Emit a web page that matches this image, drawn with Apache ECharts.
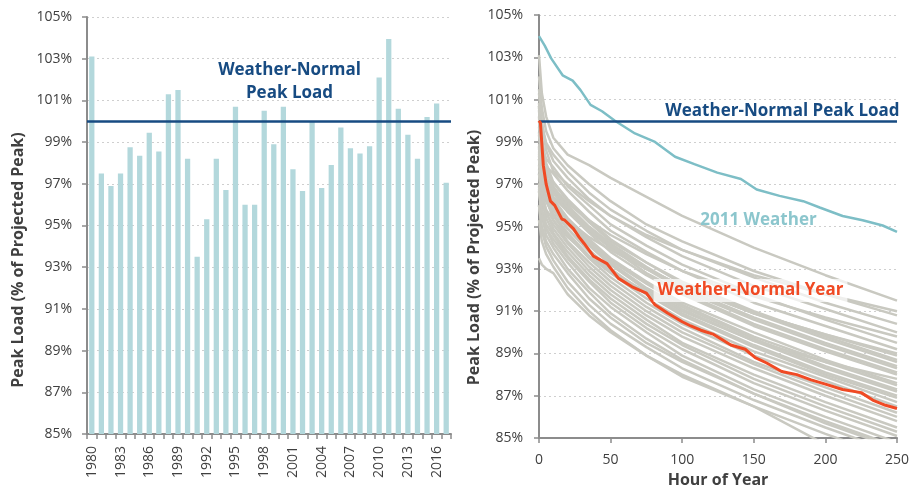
<!DOCTYPE html>
<html>
<head>
<meta charset="utf-8">
<title>Peak Load</title>
<script src="https://cdn.jsdelivr.net/npm/echarts@6.0.0/dist/echarts.min.js"></script>
<style>
  html, body { margin: 0; padding: 0; background: #fff; }
  #main { width: 912px; height: 493px; }
</style>
</head>
<body>
<div id="main"></div>
<script>
// annual peaks, % of projected peak
const YEARS = ['1980', '1981', '1982', '1983', '1984', '1985', '1986', '1987', '1988', '1989',
  '1990', '1991', '1992', '1993', '1994', '1995', '1996', '1997', '1998', '1999',
  '2000', '2001', '2002', '2003', '2004', '2005', '2006', '2007', '2008', '2009',
  '2010', '2011', '2012', '2013', '2014', '2015', '2016', '2017']
const PEAKS = [103.1, 97.5, 96.9, 97.5, 98.75, 98.35, 99.45, 98.55, 101.3, 101.5,
  98.2, 93.5, 95.3, 98.2, 96.7, 100.7, 96.0, 96.0, 100.5, 98.9,
  100.7, 97.7, 96.65, 100.0, 96.8, 97.9, 99.7, 98.7, 98.45, 98.8,
  102.1, 103.95, 100.6, 99.35, 98.2, 100.2, 100.85, 97.05]

const NORMAL_PEAK = 100

// load duration curves, top 250 hours
const HOURS = [0, 2, 5, 10, 20, 35, 50, 75, 100, 150, 200, 250]
const GRAY_YEARS = ['1980', '2010', '1989', '1988', '2016', '1995', '2000', '2012', '1998', '2015',
  '2003', '2006', '1986', '2013', '1999', '2009', '1984', '2007', '1987', '2008',
  '1985', '1993', '1990', '2014', '2005', '2001', '1981', '1983', '2017', '1982',
  '2004', '1994', '2002', '1996', '1997', '1992', '1991']
const GRAY_CURVES = [
  [103.1, 101.3, 100.2, 99.2, 98.4, 97.9, 97.3, 96.4, 95.5, 94.0, 92.7, 91.5],
  [102.1, 100.6, 99.5, 98.7, 97.9, 97.0, 96.2, 95.1, 94.3, 92.9, 91.8, 90.8],
  [101.5, 99.9, 98.6, 97.6, 97.0, 96.2, 95.5, 94.6, 93.9, 92.7, 91.8, 91.0],
  [101.3, 99.9, 98.9, 98.1, 97.3, 96.3, 95.5, 94.5, 93.6, 92.2, 91.1, 90.0],
  [100.85, 99.1, 97.8, 96.8, 96.1, 95.3, 94.6, 93.7, 92.9, 91.7, 90.7, 89.8],
  [100.7, 98.6, 97.0, 96.0, 95.3, 94.5, 93.9, 93.0, 92.2, 90.9, 89.9, 89.0],
  [100.7, 99.1, 98.0, 97.1, 96.2, 95.2, 94.3, 93.3, 92.3, 90.9, 89.7, 88.6],
  [100.6, 99.6, 98.95, 98.4, 97.6, 96.6, 95.8, 94.8, 93.9, 92.6, 91.4, 90.4],
  [100.5, 98.7, 97.4, 96.4, 95.7, 94.8, 94.0, 93.0, 92.2, 90.9, 89.9, 88.9],
  [100.2, 98.0, 96.4, 95.3, 94.5, 93.6, 92.9, 91.9, 91.0, 89.6, 88.6, 87.8],
  [100.0, 98.6, 97.7, 96.9, 96.0, 95.0, 94.2, 93.1, 92.1, 90.7, 89.5, 88.4],
  [99.7, 98.8, 98.2, 97.8, 96.9, 96.0, 95.1, 94.1, 93.2, 91.8, 90.6, 89.5],
  [99.45, 98.2, 97.35, 96.7, 95.8, 94.8, 94.0, 92.8, 91.9, 90.4, 89.2, 88.1],
  [99.35, 97.9, 97.0, 96.2, 95.3, 94.3, 93.4, 92.3, 91.3, 89.8, 88.6, 87.5],
  [98.9, 98.3, 97.85, 97.5, 96.7, 95.7, 94.8, 93.8, 92.9, 91.4, 90.3, 89.2],
  [98.8, 97.5, 96.7, 96.0, 95.1, 94.1, 93.2, 92.0, 91.1, 89.6, 88.3, 87.2],
  [98.75, 98.0, 97.5, 97.1, 96.3, 95.3, 94.4, 93.3, 92.4, 91.0, 89.8, 88.7],
  [98.7, 97.4, 96.5, 95.8, 94.9, 93.8, 92.9, 91.8, 90.8, 89.3, 88.0, 86.9],
  [98.55, 97.8, 97.2, 96.8, 95.9, 94.9, 94.1, 93.0, 92.0, 90.6, 89.4, 88.3],
  [98.45, 97.5, 96.8, 96.3, 95.4, 94.4, 93.5, 92.4, 91.4, 90.0, 88.7, 87.6],
  [98.35, 97.05, 96.2, 95.5, 94.6, 93.5, 92.6, 91.4, 90.4, 88.9, 87.7, 86.5],
  [98.2, 97.5, 97.0, 96.6, 95.7, 94.7, 93.8, 92.7, 91.8, 90.3, 89.1, 88.0],
  [98.2, 96.7, 95.7, 94.9, 94.0, 92.9, 92.0, 90.8, 89.8, 88.3, 87.0, 85.8],
  [98.2, 97.3, 96.6, 96.1, 95.2, 94.2, 93.3, 92.1, 91.2, 89.7, 88.4, 87.3],
  [97.9, 96.9, 96.2, 95.6, 94.7, 93.6, 92.8, 91.6, 90.6, 89.1, 87.9, 86.7],
  [97.7, 96.8, 96.3, 95.8, 94.9, 93.9, 93.0, 91.8, 90.9, 89.4, 88.1, 87.0],
  [97.5, 96.2, 95.4, 94.7, 93.8, 92.7, 91.8, 90.6, 89.5, 88.0, 86.7, 85.5],
  [97.5, 96.5, 95.8, 95.3, 94.3, 93.3, 92.4, 91.2, 90.2, 88.6, 87.4, 86.2],
  [97.05, 96.2, 95.6, 95.1, 94.2, 93.1, 92.2, 91.0, 90.0, 88.5, 87.2, 86.0],
  [96.9, 95.7, 94.9, 94.2, 93.3, 92.1, 91.2, 90.0, 88.9, 87.3, 86.0, 84.8],
  [96.8, 95.8, 95.1, 94.6, 93.6, 92.5, 91.6, 90.4, 89.4, 87.8, 86.5, 85.3],
  [96.7, 95.5, 94.6, 94.0, 93.0, 91.9, 90.9, 89.7, 88.7, 87.1, 85.7, 84.5],
  [96.65, 95.6, 94.9, 94.4, 93.5, 92.4, 91.4, 90.2, 89.2, 87.6, 86.3, 85.1],
  [96.0, 95.0, 94.3, 93.7, 92.8, 91.6, 90.7, 89.5, 88.6, 87.1, 85.8, 84.6],
  [96.0, 94.8, 94.05, 93.4, 92.4, 91.3, 90.4, 89.3, 88.3, 86.8, 85.5, 84.3],
  [95.3, 94.3, 93.7, 93.1, 92.1, 91.0, 90.1, 88.9, 88.0, 86.5, 85.2, 84.0],
  [93.5, 93.2, 93.0, 92.8, 91.8, 90.8, 90.0, 88.9, 87.9, 86.5, 84.7, 83.3]
]

const NORMAL_HOURS = [0, 1, 3, 5, 8, 11, 16, 18, 24, 28, 31.5, 38, 47.5, 55.5, 65, 75, 81, 90, 100,
  106, 113, 122, 134, 144, 151, 159, 169.5, 180, 190, 200, 212, 225, 233, 242, 250]
const NORMAL_VALUES = [100.0, 99.9, 97.9, 97.0, 96.2, 96.0, 95.35, 95.3, 94.9, 94.5, 94.2, 93.6, 93.25, 92.55, 92.15, 91.85, 91.3, 90.9, 90.5,
  90.3, 90.1, 89.9, 89.4, 89.2, 88.8, 88.55, 88.15, 88.0, 87.75, 87.55, 87.3, 87.15, 86.8, 86.55, 86.4]

const W2011_HOURS = [0, 4, 8.5, 16.5, 23.5, 29, 36, 44, 53, 67, 81, 95, 108.5, 124.5, 141, 152,
  168, 184.5, 196, 212, 226, 240, 250]
const W2011_VALUES = [104.0, 103.55, 102.95, 102.15, 101.9, 101.45, 100.75, 100.45, 100.0, 99.4, 99.0, 98.3, 97.95, 97.55, 97.25, 96.75,
  96.45, 96.2, 95.9, 95.5, 95.3, 95.05, 94.75]

const FONT = '"Open Sans", "Liberation Sans", sans-serif'
const TXT = '#404040'
const NAVY = '#174b82'

function pairs(xs, ys) {
  return xs.map((x, i) => [x, ys[i]])
}

let valueAxisBase = {
  type: 'value',
  min: 85,
  max: 105,
  interval: 2,
  axisLine: {show: true, lineStyle: {color: '#8c8c8c', width: 2}},
  axisTick: {show: true, length: 5, lineStyle: {color: '#8c8c8c', width: 1.5}},
  axisLabel: {formatter: '{value}%', color: TXT, fontSize: 14, fontFamily: FONT},
  splitLine: {show: true, lineStyle: {color: '#cfcfcf', type: [2, 3], width: 1}}
}

let series = []

series.push({
  type: 'bar',
  xAxisIndex: 0,
  yAxisIndex: 0,
  data: PEAKS,
  barWidth: '55%',
  itemStyle: {color: '#b3d8dc'},
  markLine: {
    silent: true,
    symbol: 'none',
    label: {show: false},
    lineStyle: {color: NAVY, width: 2.5, type: 'solid'},
    data: [{yAxis: NORMAL_PEAK}]
  }
})

GRAY_CURVES.forEach((row, i) => {
  series.push({
    name: GRAY_YEARS[i],
    type: 'line',
    xAxisIndex: 1,
    yAxisIndex: 1,
    data: pairs(HOURS, row),
    showSymbol: false,
    smooth: false,
    z: 2,
    lineStyle: {color: '#c9c9c1', width: 2.5}
  })
})

series.push({
  name: '2011 Weather',
  type: 'line',
  xAxisIndex: 1,
  yAxisIndex: 1,
  data: pairs(W2011_HOURS, W2011_VALUES),
  showSymbol: false,
  z: 4,
  lineStyle: {color: '#7dbec6', width: 2.5}
})

series.push({
  name: 'Weather-Normal Year',
  type: 'line',
  xAxisIndex: 1,
  yAxisIndex: 1,
  data: pairs(NORMAL_HOURS, NORMAL_VALUES),
  showSymbol: false,
  z: 5,
  lineStyle: {color: '#f04a24', width: 3},
  markLine: {
    silent: true,
    symbol: 'none',
    label: {show: false},
    lineStyle: {color: NAVY, width: 2.5, type: 'solid'},
    data: [{yAxis: NORMAL_PEAK}]
  }
})

const chart = echarts.init(document.getElementById('main'), null, {renderer: 'canvas'})

chart.setOption({
  backgroundColor: '#ffffff',
  animation: false,
  textStyle: {fontFamily: FONT},
  grid: [
    {left: 87, right: 461, top: 17, bottom: 59},
    {left: 539, right: 11, top: 15, bottom: 50}
  ],
  xAxis: [
    {
      type: 'category',
      gridIndex: 0,
      data: YEARS,
      boundaryGap: true,
      axisLine: {lineStyle: {color: '#8c8c8c', width: 2}},
      axisTick: {show: true, interval: 0, length: 5, lineStyle: {color: '#8c8c8c', width: 1.5}},
      axisLabel: {interval: 2, rotate: 90, margin: 12, color: TXT, fontSize: 14, fontFamily: FONT}
    },
    {
      type: 'value',
      gridIndex: 1,
      min: 0,
      max: 250,
      interval: 50,
      name: 'Hour of Year',
      nameLocation: 'middle',
      nameGap: 31,
      nameTextStyle: {color: TXT, fontSize: 16, fontWeight: 'bold', fontFamily: FONT},
      axisLine: {show: true, lineStyle: {color: '#8c8c8c', width: 2}},
      axisTick: {show: true, length: 5, lineStyle: {color: '#8c8c8c', width: 1.5}},
      axisLabel: {margin: 15, color: TXT, fontSize: 14, fontFamily: FONT},
      splitLine: {show: false}
    }
  ],
  yAxis: [
    Object.assign({}, valueAxisBase, {gridIndex: 0, axisLabel: Object.assign({}, valueAxisBase.axisLabel, {margin: 15})}),
    Object.assign({}, valueAxisBase, {gridIndex: 1, axisLabel: Object.assign({}, valueAxisBase.axisLabel, {margin: 16})})
  ],
  graphic: [
    {
      type: 'text', x: 18.5, y: 260, rotation: Math.PI / 2,
      style: {text: 'Peak Load (% of Projected Peak)', fill: TXT, font: 'bold 16px ' + FONT,
        textAlign: 'center', textVerticalAlign: 'middle', align: 'center', verticalAlign: 'middle'}
    },
    {
      type: 'text', x: 474.5, y: 257.5, rotation: Math.PI / 2,
      style: {text: 'Peak Load (% of Projected Peak)', fill: TXT, font: 'bold 16px ' + FONT,
        textAlign: 'center', textVerticalAlign: 'middle', align: 'center', verticalAlign: 'middle'}
    },
    {
      type: 'text', x: 289.5, y: 81.5, z: 10,
      style: {text: 'Weather-Normal\nPeak Load', fill: NAVY, font: 'bold 17px ' + FONT, lineHeight: 23,
        textAlign: 'center', textVerticalAlign: 'middle', align: 'center', verticalAlign: 'middle'}
    },
    {
      type: 'text', x: 782.5, y: 111.5, z: 10,
      style: {text: 'Weather-Normal Peak Load', fill: NAVY, font: 'bold 17px ' + FONT,
        textAlign: 'center', textVerticalAlign: 'middle', align: 'center', verticalAlign: 'middle'}
    },
    {
      type: 'text', x: 758.5, y: 220.5, z: 10,
      style: {text: '2011 Weather', fill: '#8cc6cd', font: 'bold 17px ' + FONT,
        textAlign: 'center', textVerticalAlign: 'middle', align: 'center', verticalAlign: 'middle'}
    },
    {
      type: 'text', x: 750.5, y: 290.5, z: 10,
      style: {text: 'Weather-Normal Year', fill: '#f04a24', font: 'bold 17px ' + FONT,
        backgroundColor: 'rgba(255,255,255,0.7)', padding: [3, 4],
        textAlign: 'center', textVerticalAlign: 'middle', align: 'center', verticalAlign: 'middle'}
    }
  ],
  series: series
})
</script>
</body>
</html>
